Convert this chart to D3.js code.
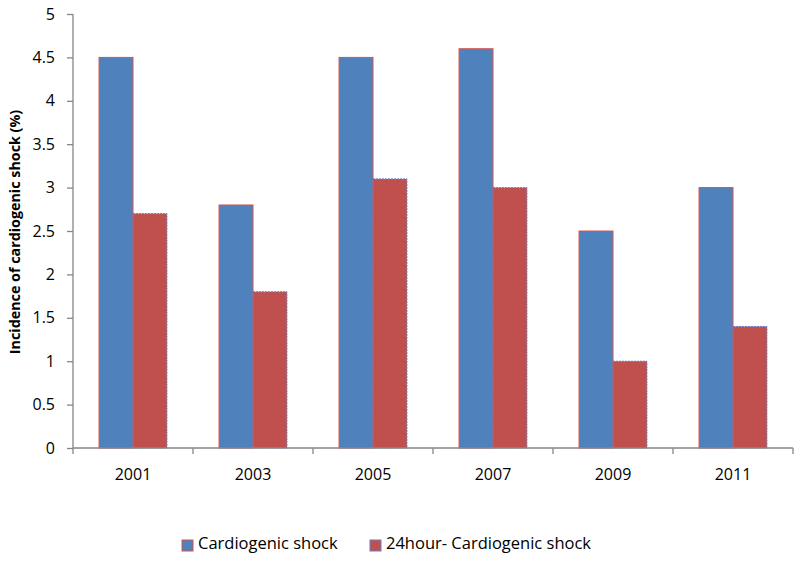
<!DOCTYPE html>
<html>
<head>
<meta charset="utf-8">
<script src="https://cdn.jsdelivr.net/npm/d3@7"></script>
<style>
  body { margin: 0; background: #fff; }
  text { font-family: "Open Sans", "Liberation Sans", sans-serif; }
</style>
</head>
<body>
<div id="chart"></div>
<script>
// chart data
const years = ["2001", "2003", "2005", "2007", "2009", "2011"];
const shock = [4.5, 2.8, 4.5, 4.6, 2.5, 3.0];
const shock24 = [2.7, 1.8, 3.1, 3.0, 1.0, 1.4];
const seriesNames = ["Cardiogenic shock", "24hour- Cardiogenic shock"];
const yTicks = [0, 0.5, 1, 1.5, 2, 2.5, 3, 3.5, 4, 4.5, 5];

const W = 800, H = 562;
const margin = { top: 14, right: 7, bottom: 114, left: 73 };
const width = W - margin.left - margin.right,
    height = H - margin.top - margin.bottom;

const svg = d3.select("#chart").append("svg")
    .attr("width", W)
    .attr("height", H);

const g = svg.append("g")
    .attr("transform", "translate(" + margin.left + "," + margin.top + ")");

const x = d3.scaleBand()
    .domain(years)
    .range([0, width]);

const x1 = d3.scaleBand()
    .domain([0, 1])
    .range([x.bandwidth() * 0.217, x.bandwidth() * 0.783]);

const y = d3.scaleLinear()
    .domain([0, 5])
    .range([height, 0]);

const fills = ["#4F81BD", "#C0504D"];
const strokes = ["#D9534F", "#6A7FC8"];

const rows = years.map((yr, i) => ({ year: yr, vals: [shock[i], shock24[i]] }));

const groups = g.selectAll(".grp")
    .data(rows)
    .enter().append("g")
    .attr("class", "grp")
    .attr("transform", d => "translate(" + x(d.year) + ",0)");

groups.selectAll("rect")
    .data(d => d.vals.map((v, k) => ({ k: k, v: v })))
    .enter().append("rect")
    .attr("x", d => x1(d.k))
    .attr("width", x1.bandwidth())
    .attr("y", d => y(d.v))
    .attr("height", d => y(0) - y(d.v))
    .style("fill", d => fills[d.k])
    .style("stroke", d => strokes[d.k])
    .style("stroke-width", 1)
    .style("stroke-dasharray", d => d.k === 1 ? "2,1" : null);

// axes
const yAxis = d3.axisLeft(y)
    .tickValues(yTicks)
    .tickSize(6)
    .tickPadding(12)
    .tickFormat(d3.format("~g"));

const xAxis = d3.axisBottom(x)
    .tickValues([])
    .tickSizeOuter(0);

const yg = g.append("g").attr("class", "y-axis").call(yAxis);
yg.select(".domain").attr("d", "M0,0V" + height);

const xg = g.append("g")
    .attr("class", "x-axis")
    .attr("transform", "translate(0," + height + ")")
    .call(xAxis);
xg.select(".domain").attr("d", "M0,0H" + width);

// category boundary ticks
xg.selectAll(".bound")
    .data(d3.range(years.length + 1))
    .enter().append("line")
    .attr("class", "bound")
    .attr("x1", i => i * x.step())
    .attr("x2", i => i * x.step())
    .attr("y1", 0)
    .attr("y2", 6);

// category labels
xg.selectAll(".lab")
    .data(years)
    .enter().append("text")
    .attr("class", "lab")
    .attr("x", d => x(d) + x.bandwidth() / 2)
    .attr("y", 32)
    .attr("text-anchor", "middle")
    .style("font-size", "16px")
    .style("fill", "#000")
    .text(d => d);

svg.selectAll(".domain, .tick line, .bound")
    .style("stroke", "#868686")
    .style("stroke-width", 1.3);

yg.selectAll(".tick text")
    .style("font-size", "16px")
    .style("fill", "#000")
    .style("font-family", "'Open Sans', sans-serif");

// axis title
svg.append("text")
    .attr("transform", "translate(20,232) rotate(-90)")
    .attr("text-anchor", "middle")
    .style("font-size", "14.3px")
    .style("font-weight", "bold")
    .text("Incidence of cardiogenic shock (%)");

// legend
const legendX = [182, 370];
const legend = svg.selectAll(".legend")
    .data(seriesNames)
    .enter().append("g")
    .attr("class", "legend")
    .attr("transform", (d, i) => "translate(" + legendX[i] + ",546)");

legend.append("rect")
    .attr("x", 0)
    .attr("y", -6)
    .attr("width", 11)
    .attr("height", 11)
    .style("fill", (d, i) => fills[i])
    .style("stroke", (d, i) => strokes[i])
    .style("stroke-width", 1);

legend.append("text")
    .attr("x", 16)
    .attr("y", 3)
    .style("font-size", "16.5px")
    .text(d => d);
</script>
</body>
</html>
